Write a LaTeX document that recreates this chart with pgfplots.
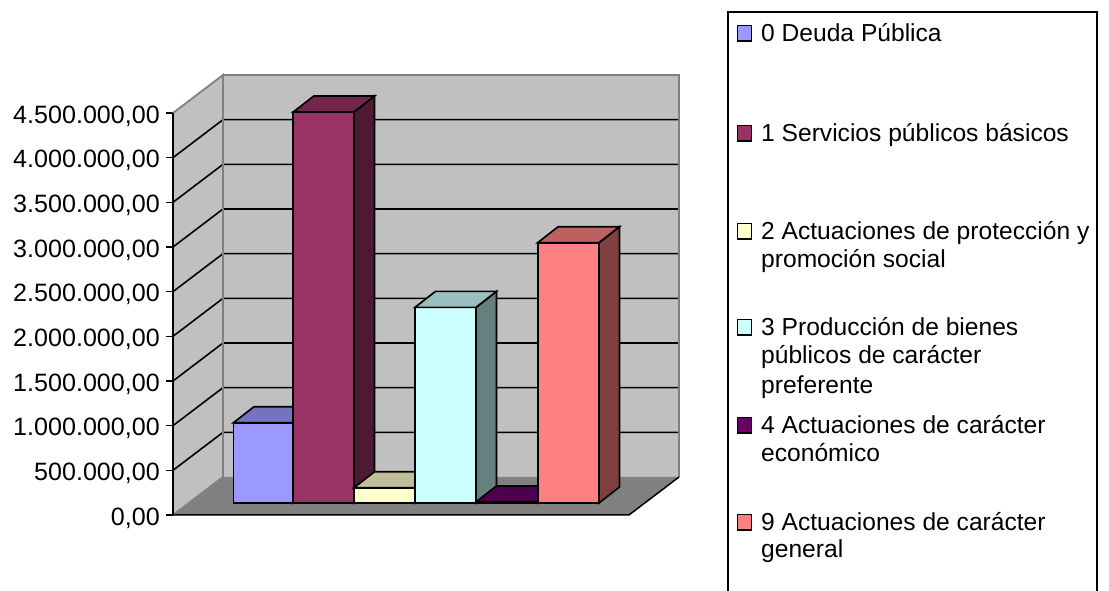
\documentclass[border=0pt]{standalone}
\usepackage{fontspec}
\setmainfont{Liberation Sans}
\usepackage{pgfplots}
\pgfplotsset{compat=1.18}
\definecolor{wall}{HTML}{C0C0C0}
\definecolor{flr}{HTML}{808080}
\definecolor{aF}{HTML}{9999FF}\definecolor{aT}{HTML}{7373BF}\definecolor{aS}{HTML}{4D4D80}
\definecolor{bF}{HTML}{993366}\definecolor{bT}{HTML}{73264D}\definecolor{bS}{HTML}{4D1A33}
\definecolor{cF}{HTML}{FFFFCC}\definecolor{cT}{HTML}{BFBF99}\definecolor{cS}{HTML}{808066}
\definecolor{dF}{HTML}{CCFFFF}\definecolor{dT}{HTML}{99BFBF}\definecolor{dS}{HTML}{668080}
\definecolor{eF}{HTML}{660066}\definecolor{eT}{HTML}{4D004D}\definecolor{eS}{HTML}{330033}
\definecolor{fF}{HTML}{FF8080}\definecolor{fT}{HTML}{BF6060}\definecolor{fS}{HTML}{804040}
% #1 left edge (px), #2 right edge (px), #3 value, #4 colour prefix
\newcommand\facet[3]{%
  \addplot[fill=#1,draw=black,line width=1.7pt,line join=miter,
    table/row sep=\\] table[x=x,y expr=#2*\thisrow{v}+\thisrow{o}*11194.03] {#3} -- cycle;}
\newcommand\threedbar[4]{%
  \pgfmathsetmacro\xa{#1}\pgfmathsetmacro\xb{#2}%
  \pgfmathsetmacro\xc{#1+20.5}\pgfmathsetmacro\xd{#2+20.5}%
  \edef\tmpa{\noexpand\facet{#4F}{#3}{x v o\\ \xa\space 0 12\\ \xb\space 0 12\\ \xb\space 1 12\\ \xa\space 1 12\\}}\tmpa
  \edef\tmpb{\noexpand\facet{#4S}{#3}{x v o\\ \xb\space 0 12\\ \xd\space 0 28\\ \xd\space 1 28\\ \xb\space 1 12\\}}\tmpb
  \edef\tmpc{\noexpand\facet{#4T}{#3}{x v o\\ \xa\space 1 12\\ \xb\space 1 12\\ \xd\space 1 28\\ \xc\space 1 28\\}}\tmpc
}
\newcommand\lgd[1]{\fontsize{24.6}{29}\selectfont #1}
\begin{document}
\begin{tikzpicture}
\path[use as bounding box,fill=white] (0,0) rectangle (1109pt,591pt);
\begin{axis}[
  at={(173pt,0pt)},anchor=south west,
  width=936pt,height=591pt,scale only axis,
  xmin=173,xmax=1109,
  ymin=-850746,ymax=5764925,
  clip=false,
  axis line style={draw=none},
  xtick=\empty,
  ytick={0,500000,1000000,1500000,2000000,2500000,3000000,3500000,4000000,4500000},
  tick pos=left,tick align=outside,
  major tick length=7pt,
  tick style={black,line width=1.6pt},
  scaled y ticks=false,
  yticklabel style={font=\fontsize{25.1}{30}\selectfont,inner sep=0pt,xshift=-6pt,yshift=-3pt,
    /pgf/number format/.cd,fixed,fixed zerofill,precision=2,1000 sep={.},dec sep={,},assume math mode=true},
]
% left wall, back wall, floor
\addplot[fill=wall,draw=none] coordinates {(173,0) (223,425373) (223,4925373) (173,4500000)} -- cycle;
\addplot[fill=wall,draw=none] coordinates {(223,425373) (679,425373) (679,4925373) (223,4925373)} -- cycle;
\addplot[fill=flr,draw=none] coordinates {(173,0) (629,0) (679,425373) (223,425373)} -- cycle;
% gridlines
\foreach \v/\w in {500000/925373,1000000/1425373,1500000/1925373,2000000/2425373,2500000/2925373,3000000/3425373,3500000/3925373,4000000/4425373}{
  \edef\tmp{\noexpand\addplot[black,line width=1.6pt] coordinates {(173,\v) (223,\w) (679,\w)};}\tmp
}
% wall edges
\addplot[flr,line width=1.8pt] coordinates {(173,0) (223,425373) (223,4925373) (173,4500000)};
\addplot[flr,line width=1.8pt] coordinates {(223,4925373) (679,4925373) (679,425373)};
% floor front and right edges, y axis
\addplot[black,line width=1.5pt] coordinates {(173,0) (629,0) (679,425373)};
\addplot[black,line width=1.6pt] coordinates {(173,0) (173,4500000)};
% bars
\threedbar{233.5}{293.3}{899000}{a}
\threedbar{293.3}{354}{4377000}{b}
\threedbar{354}{415}{171000}{c}
\threedbar{415}{476}{2190000}{d}
\threedbar{476}{537.7}{12000}{e}
\threedbar{537.7}{599}{2914000}{f}
\end{axis}
\begin{scope}[x=1pt,y=-1pt,shift={(0pt,591pt)}]
\draw[black,line width=1.6pt] (728,591) -- (728,12) -- (1097,12) -- (1097,591);
\foreach \yy/\cc in {41/aF,141/bF,239/cF,335/dF,433/eF,530/fF}{
  \draw[black,line width=1.5pt,fill=\cc] (737.5,\yy-15.5) rectangle (751.5,\yy);
}
\foreach \yy/\tt in {42/{0 Deuda Pública},142/{1 Servicios públicos básicos},
  240/{2 Actuaciones de protección y},268/{promoción social},
  336/{3 Producción de bienes},364/{públicos de carácter},394/{preferente},
  434/{4 Actuaciones de carácter},462/{económico},
  531/{9 Actuaciones de carácter},558/{general}}{
  \node[anchor=base west,inner sep=0pt] at (761,\yy) {\lgd{\tt}};
}
\end{scope}
\end{tikzpicture}
\end{document}
